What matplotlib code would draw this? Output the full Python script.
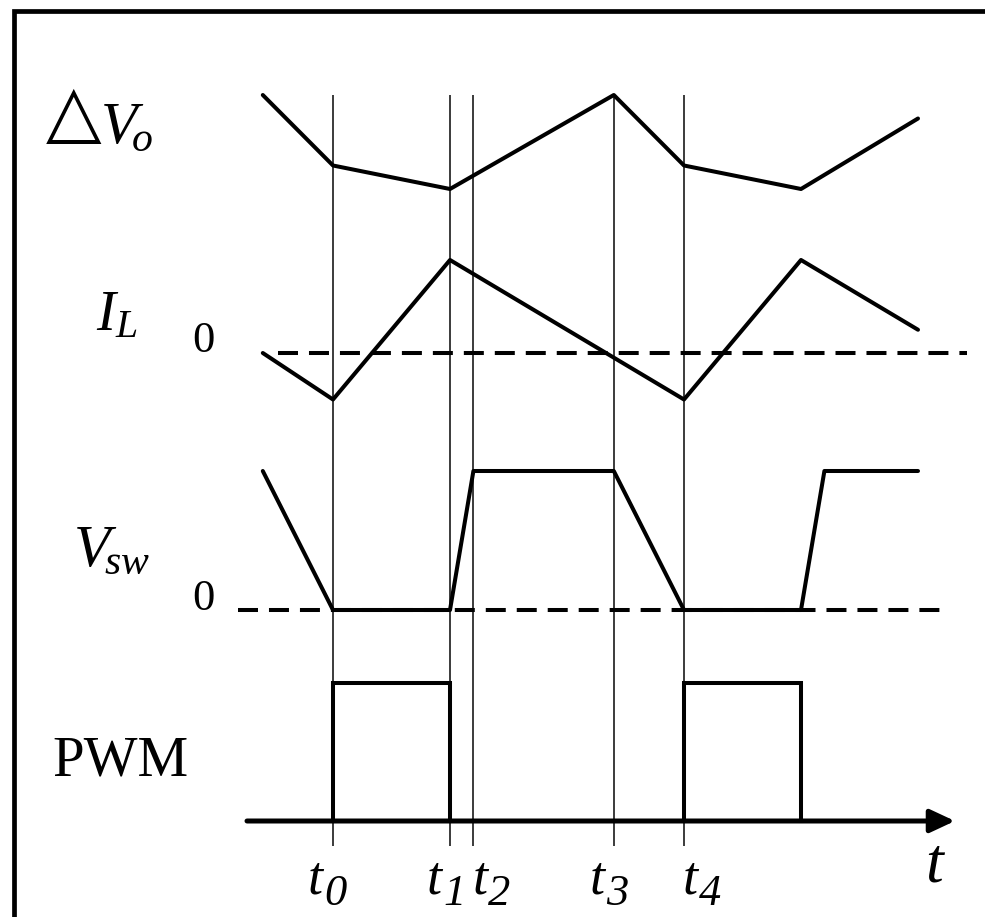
import matplotlib
matplotlib.use('Agg')
import matplotlib.pyplot as plt
from matplotlib import transforms

# Waveforms, time in units of (t1 - t0)
dvo_t = [-0.6, 0, 1, 2.4, 3, 4, 5]
dvo = [1.0, 0.25, 0.0, 1.0, 0.25, 0.0, 0.75]

il_t = [-0.6, 0, 1, 3, 4, 5]
il = [0.0, -0.5, 1.0, -0.5, 1.0, 0.25]

vsw_t = [-0.6, 0, 1, 1.2, 2.4, 3, 4, 4.2, 5]
vsw = [1, 0, 0, 1, 1, 0, 0, 1, 1]

pwm_rise = [0, 3]
pwm_fall = [1, 4]

# Marked instants and their subscripts
event_t = [0, 1, 1.2, 2.4, 3]
event_sub = ['0', '1', '2', '3', '4']

# Layout (pixels)
W, H = 985, 917
X0, XSCALE = 333, 117
XLIM = (-X0 / XSCALE, (W - X0) / XSCALE)
LW = 2.9
SERIF = 'Liberation Serif'
DASH = (0, (14.4 / LW, 7.9 / LW))

plt.rcParams['mathtext.fontset'] = 'custom'
plt.rcParams['mathtext.rm'] = 'Liberation Serif'
plt.rcParams['mathtext.it'] = 'Liberation Serif:italic'

fig = plt.figure(figsize=(W / 100, H / 100), dpi=100)


def panel(px_lo, px_hi, lo, hi):
    # axes whose value lo sits at pixel row px_lo and hi at px_hi
    ax = fig.add_axes([0, 1 - px_lo / H, 1, (px_lo - px_hi) / H])
    ax.set_xlim(XLIM)
    ax.set_ylim(lo, hi)
    ax.axis('off')
    return ax


def put(x, y, s, size, style='italic', family=SERIF, **kw):
    fig.text(x / W, 1 - y / H, s, fontsize=size, style=style,
             family=family, ha='left', va='baseline', **kw)


# Overlay for the time markers
ax0 = fig.add_axes([0, 0, 1, 1])
ax0.set_xlim(XLIM)
ax0.set_ylim(H, 0)
ax0.axis('off')
ax0.vlines(event_t, 95, 846, color='#1a1a1a', lw=1.2)

# Frame (only left and top edges show)
fig.add_artist(plt.Line2D([14 / W, 14 / W, 1.01], [-0.01, 1 - 11 / H, 1 - 11 / H],
                          transform=fig.transFigure, color='black', lw=3.4,
                          solid_joinstyle='miter'))

line_kw = dict(color='black', lw=LW, solid_capstyle='round',
               solid_joinstyle='round', clip_on=False)

# Delta Vo
ax1 = panel(189, 95, 0, 1)
ax1.plot(dvo_t, dvo, **line_kw)

# Inductor current
ax2 = panel(399.5, 260, -0.5, 1)
ax2.plot([-0.47, 5.42], [0, 0], color='black', lw=LW, ls=DASH, clip_on=False)
ax2.plot(il_t, il, **line_kw)

# Switch node voltage
ax3 = panel(610, 471, 0, 1)
ax3.plot([-0.81, 5.21], [0, 0], color='black', lw=LW, ls=DASH, clip_on=False)
ax3.plot(vsw_t, vsw, **line_kw)

# PWM with time axis
ax4 = panel(821, 683, 0, 1)
ax4.annotate('', xy=(5.316, 0), xytext=(-0.735, 0), annotation_clip=False,
             arrowprops=dict(arrowstyle='-|>,head_length=1.5,head_width=0.7',
                             mutation_scale=10, lw=3.6, color='black',
                             shrinkA=0, shrinkB=0))
for on, off in zip(pwm_rise, pwm_fall):
    ax4.plot([on, on, off, off], [0, 1, 1, 0], color='black', lw=LW,
             solid_joinstyle='miter', clip_on=False)

# Signal names
put(46, 135, '\u25b3', 52, style='normal', family='DejaVu Sans', fontweight='bold')
put(100, 143, r'$V_{\!o}$', 43)
put(96, 330, r'$I_L$', 41)
put(73, 566, r'$V_{\!sw}$', 43)
put(192, 352, '0', 32, style='normal')
put(192, 610, '0', 32, style='normal')
put(52, 775, 'PWM', 41, style='normal')

# Time labels under the axis
t_shift = [-25, -23, -1, -24, -1]
for t, sub, dx in zip(event_t, event_sub, t_shift):
    tr = transforms.offset_copy(ax0.transData, fig=fig, x=dx, y=0, units='dots')
    ax0.text(t, 893, 't', transform=tr, fontsize=39, style='italic',
             family=SERIF, ha='left', va='baseline')
    tr2 = transforms.offset_copy(ax0.transData, fig=fig, x=dx + 16, y=0, units='dots')
    ax0.text(t, 905, sub, transform=tr2, fontsize=32, style='italic',
             family=SERIF, ha='left', va='baseline')
put(925, 882, 't', 46)

fig.savefig('out.png', dpi=100)
